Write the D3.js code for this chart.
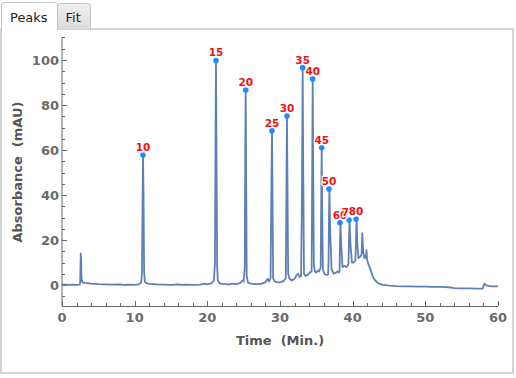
<!DOCTYPE html>
<html>
<head>
<meta charset="utf-8">
<script src="https://cdn.jsdelivr.net/npm/d3@7"></script>
<style>
html, body { margin: 0; padding: 0; background: #fff; }
svg { display: block; }
</style>
</head>
<body>
<svg id="chart" width="516" height="378"></svg>
<script>
// ---- Data ----
const times = [0,0.5,1,1.5,2,2.4,2.5,2.58,2.63,2.68,2.8,3.2,4,5,6,7,8,8.5,9,10,10.6,10.9,11.0,11.1,11.15,11.22,11.3,11.4,11.6,12,13,14,15,16,16.5,17,18,19,19.6,20,20.6,20.9,21.05,21.12,21.19,21.26,21.35,21.45,21.7,22,23,23.5,24,24.5,24.8,25.0,25.15,25.22,25.28,25.34,25.42,25.6,26,26.5,27,27.5,28,28.3,28.5,28.7,28.82,28.9,28.97,29.05,29.3,29.7,30.1,30.5,30.8,30.9,30.96,31.03,31.12,31.3,31.6,31.9,32.1,32.3,32.5,32.7,32.9,33.02,33.12,33.2,33.3,33.5,33.8,34.1,34.35,34.43,34.5,34.57,34.66,34.8,35.0,35.2,35.4,35.6,35.68,35.74,35.8,35.9,36.1,36.3,36.5,36.62,36.68,36.74,36.8,36.9,37.1,37.4,37.7,37.9,38.1,38.2,38.26,38.32,38.42,38.6,38.9,39.1,39.3,39.42,39.5,39.57,39.7,39.9,40.1,40.3,40.38,40.46,40.54,40.65,40.8,41.0,41.15,41.24,41.32,41.45,41.6,41.75,41.83,41.9,42.0,42.2,42.5,42.8,43.1,43.5,44,45,46,47,48,49,50,51,52,52.8,53.2,54,55,56,57,57.7,57.9,58.0,58.15,58.4,59,60];
const absorbance = [0.2,0.2,0.1,0.2,0.1,0.2,1,14,12,3,1.2,0.9,0.6,0.4,0.3,0.2,0.3,0.1,0.2,0.1,0.3,1.2,5,40,57.8,40,6,1.5,0.8,0.5,0.3,0.2,0.1,0.3,0.1,0.2,0.1,0.2,0.6,0.3,0.8,2,10,60,99.8,60,8,2,0.8,0.5,0.3,0.6,0.4,0.8,2,1.5,8,60,86.7,50,4,1,0.6,0.4,0.4,0.6,1.2,2.8,1.5,3,45,68.6,40,3,1.5,1.2,1.3,1.8,3,50,75.1,45,5,3,2,2.5,3.2,4.5,5,3.5,4,40,96.6,50,5,4,4.5,5.5,6,50,91.6,50,9,6,5.5,6.5,6,8,40,61,35,7,5,4.5,4.5,4.8,10,30,42.7,25,7,5,5.5,6,5.5,6.5,20,27.7,18,8,8.5,8,8.5,9.5,20,28.9,18,10,10,10.5,11,20,29.3,18,12,12.5,13,14,23,15,12,13,12,15.5,11,9,6.5,3.5,2,0.8,0.2,-0.3,-0.5,-0.6,-0.6,-0.7,-0.7,-0.8,-0.8,-0.9,-1,-1.4,-1.5,-1.5,-1.6,-1.6,-1.6,-0.5,0.6,-0.2,-0.6,-0.6,-0.7];

const peakLabels = ["10","15","20","25","30","35","40","45","50","60","70","80"];
const peakTimes  = [11.15,21.19,25.28,28.9,30.96,33.12,34.5,35.74,36.74,38.26,39.5,40.46];
const peakValues = [57.8,99.8,86.7,68.6,75.1,96.6,91.6,61,42.7,27.7,28.9,29.3];

const xTicks = [0,10,20,30,40,50,60];
const yTicks = [0,20,40,60,80,100];
const tabNames = ["Peaks","Fit"];

// ---- Layout ----
const svg = d3.select("#chart");
const font = "'DejaVu Sans', sans-serif";

// panel
svg.append("rect").attr("x",1).attr("y",29).attr("width",512).attr("height",344)
  .attr("fill","#fff").attr("stroke","#d4d4d4").attr("stroke-width",2);

// tabs
const defs = svg.append("defs");
const grad = defs.append("linearGradient").attr("id","tabgrad").attr("x1",0).attr("y1",0).attr("x2",0).attr("y2",1);
grad.append("stop").attr("offset","0%").attr("stop-color","#efefef");
grad.append("stop").attr("offset","100%").attr("stop-color","#dcdcdc");

const tabGeom = [{x:1.5,w:56,y:2.5,fill:"#fff"},{x:57.5,w:33,y:3.5,fill:"url(#tabgrad)"}];
tabNames.forEach((name,i)=>{
  const g = tabGeom[i];
  const h = 29 - g.y + (i===0?1:0);
  const r = 3;
  const p = `M${g.x},${g.y+h} L${g.x},${g.y+r} Q${g.x},${g.y} ${g.x+r},${g.y} L${g.x+g.w-r},${g.y} Q${g.x+g.w},${g.y} ${g.x+g.w},${g.y+r} L${g.x+g.w},${g.y+h}`;
  svg.append("path").attr("d",p+" Z").attr("fill",g.fill).attr("stroke","none");
  svg.append("path").attr("d",p).attr("fill","none").attr("stroke","#c4c4c4").attr("stroke-width",1);
  svg.append("text").attr("x",g.x + (i===0?8.5:8)).attr("y",22)
    .attr("font-family",font).attr("font-size",13).attr("fill","#222").text(name);
});

// scales
const x = d3.scaleLinear().domain([0,60]).range([62,498]);
const y = d3.scaleLinear().domain([0,100]).range([285,60]);
const yBottom = 306, yTop = 37;

const axisColor = "#666";
const g = svg.append("g");

// y axis
g.append("line").attr("x1",62).attr("x2",62).attr("y1",yTop).attr("y2",yBottom)
  .attr("stroke",axisColor).attr("stroke-width",1);
const yMinor = d3.range(-5,111,5);
g.selectAll(".ytick").data(yMinor).join("line")
  .attr("x1",62).attr("x2",d=> 62 + (d%20===0 && d>=0 && d<=100 ? 5 : 3))
  .attr("y1",d=>Math.round(y(d))+0.5).attr("y2",d=>Math.round(y(d))+0.5)
  .attr("stroke",axisColor).attr("stroke-width",1);
g.selectAll(".ylab").data(yTicks).join("text")
  .attr("x",59).attr("y",d=>y(d)+4.5).attr("text-anchor","end")
  .attr("font-family",font).attr("font-size",13).attr("font-weight","bold")
  .attr("fill","#6a6a6a").text(d=>d);

// x axis
g.append("line").attr("x1",62).attr("x2",498).attr("y1",yBottom+0.5).attr("y2",yBottom+0.5)
  .attr("stroke",axisColor).attr("stroke-width",1);
const xMinor = d3.range(0,61,2);
g.selectAll(".xtick").data(xMinor).join("line")
  .attr("x1",d=>Math.round(x(d))+0.5).attr("x2",d=>Math.round(x(d))+0.5)
  .attr("y1",yBottom).attr("y2",d=> yBottom - (d%10===0 ? 5 : 3))
  .attr("stroke",axisColor).attr("stroke-width",1);
g.selectAll(".xlab").data(xTicks).join("text")
  .attr("x",d=>x(d)).attr("y",322).attr("text-anchor","middle")
  .attr("font-family",font).attr("font-size",13).attr("font-weight","bold")
  .attr("fill","#6a6a6a").text(d=>d);

// axis titles
svg.append("text").attr("x",280).attr("y",345).attr("text-anchor","middle")
  .attr("font-family",font).attr("font-size",13).attr("font-weight","bold")
  .attr("fill","#555").attr("xml:space","preserve").style("white-space","pre").text("Time  (Min.)");
svg.append("text").attr("transform","translate(22,172) rotate(-90)").attr("text-anchor","middle")
  .attr("font-family",font).attr("font-size",13).attr("font-weight","bold")
  .attr("fill","#555").style("white-space","pre").text("Absorbance  (mAU)");

// clip
defs.append("clipPath").attr("id","plotclip").append("rect")
  .attr("x",62).attr("y",yTop).attr("width",437).attr("height",yBottom-yTop);

// line
const pts = times.map((t,i)=>[t,absorbance[i]]);
svg.append("path").datum(pts)
  .attr("clip-path","url(#plotclip)")
  .attr("d", d3.line().x(d=>x(d[0])).y(d=>y(d[1])))
  .attr("fill","none").attr("stroke","#5e81b5").attr("stroke-width",1.8)
  .attr("stroke-linejoin","round");

// peak markers and labels
const peaks = peakLabels.map((l,i)=>({l, t:peakTimes[i], v:peakValues[i]}));
const pg = svg.append("g");
pg.selectAll("circle").data(peaks).join("circle")
  .attr("cx",d=>x(d.t)).attr("cy",d=>y(d.v)).attr("r",2.8).attr("fill","#1e8cff");
peaks.forEach(d=>{
  pg.append("text").attr("x",x(d.t)).attr("y",y(d.v)-4).attr("text-anchor","middle")
    .attr("font-family",font).attr("font-size",10.5).attr("font-weight","bold")
    .attr("fill","#f01010").attr("stroke","#fff").attr("stroke-width",2.5)
    .attr("paint-order","stroke").text(d.l);
});
</script>
</body>
</html>
